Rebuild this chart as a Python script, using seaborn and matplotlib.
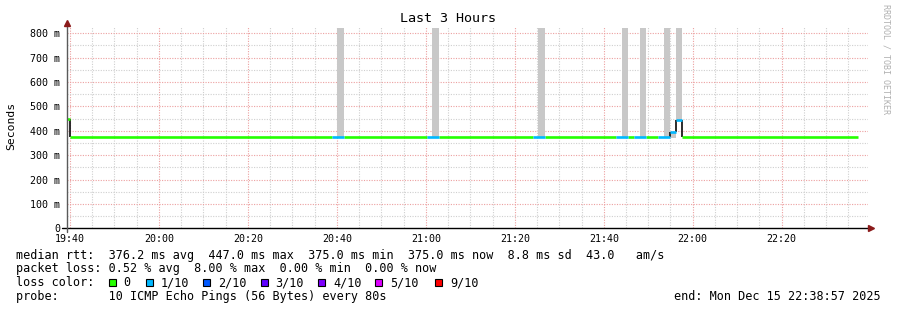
import numpy as np
import pandas as pd
import matplotlib
matplotlib.use("Agg")
import matplotlib.pyplot as plt
import seaborn as sns
from matplotlib.patches import Rectangle
from matplotlib.lines import Line2D

# ---------------- data ----------------
x_tick_minutes = [0, 20, 40, 60, 80, 100, 120, 140, 160]
x_tick_labels = ["19:40", "20:00", "20:20", "20:40", "21:00",
                 "21:20", "21:40", "22:00", "22:20"]
y_tick_values = [0, 100, 200, 300, 400, 500, 600, 700, 800]
y_tick_labels = ["0", "100 m", "200 m", "300 m", "400 m",
                 "500 m", "600 m", "700 m", "800 m"]

# median rtt (ms) as step segments, minutes after 19:40
seg_start = [-0.74, 0.0, 58.9, 61.6, 80.3, 83.0, 104.1, 106.8,
             122.8, 125.5, 126.8, 129.5, 132.2, 134.9, 136.2, 137.5]
seg_end = [0.0, 58.9, 61.6, 80.3, 83.0, 104.1, 106.8, 122.8,
           125.5, 126.8, 129.5, 132.2, 134.9, 136.2, 137.5, 177.2]
seg_value = [447, 375, 375, 375, 375, 375, 375, 375,
             375, 375, 375, 375, 375, 394, 446, 375]
seg_loss = [0, 0, 1, 0, 1, 0, 1, 0, 1, 0, 1, 0, 1, 1, 1, 0]

# smoke (spread of individual pings)
smoke_start = [60.0, 81.4, 105.2, 124.1, 128.2, 133.6, 134.9, 136.2]
smoke_end = [61.6, 83.0, 106.8, 125.5, 129.5, 134.9, 136.2, 137.5]
smoke_low = [375, 375, 375, 375, 375, 375, 370, 446]
smoke_high = [822, 822, 822, 822, 822, 822, 392, 822]

loss_labels = ["0", "1/10", "2/10", "3/10", "4/10", "5/10", "9/10"]
loss_colors = ["#26ff00", "#00b8ff", "#0059ff", "#5e00ff",
               "#7e00ff", "#dd00ff", "#ff0000"]

title = "Last 3 Hours"
y_label = "Seconds"
stat_line1 = "median rtt:  376.2 ms avg  447.0 ms max  375.0 ms min  375.0 ms now  8.8 ms sd  43.0   am/s"
stat_line2 = "packet loss: 0.52 % avg  8.00 % max  0.00 % min  0.00 % now"
stat_line3 = "loss color:"
stat_line4 = "probe:       10 ICMP Echo Pings (56 Bytes) every 80s"
end_text = "end: Mon Dec 15 22:38:57 2025"
watermark = "RRDTOOL / TOBI OETIKER"

# ---------------- style ----------------
sns.set_theme(style="white")
plt.rcParams["font.family"] = ["DejaVu Sans Mono", "DejaVu Sans"]
plt.rcParams["text.color"] = "black"
plt.rcParams["lines.scale_dashes"] = True

W, H = 897, 310
fig = plt.figure(figsize=(W / 100, H / 100), dpi=100)
fig.patch.set_facecolor("white")

def fx(px):
    return px / W

def fy(py):
    return 1 - py / H

x_left_px, x_right_px = 66.7, 868.0
y_bot_px, y_top_px = 228.3, 26.7
ax = fig.add_axes([fx(x_left_px), fy(y_bot_px),
                   (x_right_px - x_left_px) / W, (y_bot_px - y_top_px) / H])
ax.set_facecolor("white")
ax.set_xlim(-0.74, 179.4)
ax.set_ylim(0, 827)

# grid
major_c = "#eca0a0"
minor_c = "#cfcfcf"
dots = (0, (1, 1.3))
for t in range(5, 180, 5):
    if t % 20 != 0:
        ax.axvline(t, color=minor_c, lw=0.8, ls=dots, zorder=1)
for t in x_tick_minutes:
    ax.axvline(t, color=major_c, lw=0.8, ls=dots, zorder=1)
for v in range(50, 827, 100):
    ax.axhline(v, color=minor_c, lw=0.8, ls=dots, zorder=1)
for v in y_tick_values[1:]:
    ax.axhline(v, color=major_c, lw=0.8, ls=dots, zorder=1)

# smoke
ax.bar(smoke_start,
       np.array(smoke_high) - np.array(smoke_low),
       width=np.array(smoke_end) - np.array(smoke_start),
       bottom=smoke_low, align="edge", color="#c8c8c8",
       linewidth=0, zorder=2)

# black connectors at value changes
for i in range(1, len(seg_value)):
    if seg_value[i] != seg_value[i - 1]:
        ax.vlines(seg_start[i], min(seg_value[i], seg_value[i - 1]),
                  max(seg_value[i], seg_value[i - 1]),
                  color="#1a1a1a", lw=1.3, zorder=3)

# median line coloured by loss
rows = []
for i in range(len(seg_start)):
    lab = loss_labels[seg_loss[i]]
    rows.append({"t": seg_start[i], "v": seg_value[i], "loss": lab, "seg": i})
    rows.append({"t": seg_end[i], "v": seg_value[i], "loss": lab, "seg": i})
df = pd.DataFrame(rows)
sns.lineplot(data=df, x="t", y="v", hue="loss", units="seg", estimator=None,
             palette=dict(zip(loss_labels, loss_colors)), linewidth=1.9,
             legend=False, ax=ax, sort=False, zorder=4)
for ln in ax.lines:
    ln.set_solid_capstyle("butt")

# ticks
ax.set_xticks(x_tick_minutes)
ax.set_xticklabels(x_tick_labels)
ax.set_yticks(y_tick_values)
ax.set_yticklabels(y_tick_labels)
ax.tick_params(axis="both", length=0, labelsize=7.2, colors="#000000",
               labelcolor="#000000")
ax.tick_params(axis="x", pad=4.2)
ax.tick_params(axis="y", pad=4.6)
ax.set_xlabel("")
ax.set_ylabel("")
for s in ax.spines.values():
    s.set_visible(False)

# axes lines and arrows
fig.add_artist(Line2D([fx(62), fx(870)], [fy(228.3), fy(228.3)],
                      color="black", lw=1.0))
fig.add_artist(Line2D([fx(66.7), fx(66.7)], [fy(232), fy(24)],
                      color="#5a5a5a", lw=1.0))
fig.add_artist(Line2D([fx(66.8)], [fy(23)], marker="^", ms=4.5,
                      color="#8b1a1a", lw=0))
fig.add_artist(Line2D([fx(870.5)], [fy(228.3)], marker=">", ms=4.5,
                      color="#8b1a1a", lw=0))

# titles
fig.text(fx(448), fy(19), title, ha="center", va="center", fontsize=9.6,
         color="black")
fig.text(fx(11), fy(126), y_label, rotation=90, ha="center", va="center",
         fontsize=8.2, color="black")
fig.text(fx(886), fy(4), watermark, rotation=270, ha="center", va="top",
         fontsize=6.0, color="#b0b0b0")

# statistics
fs = 8.5
fig.text(fx(16), fy(255), stat_line1, va="center", fontsize=fs, color="black")
fig.text(fx(16), fy(268.7), stat_line2, va="center", fontsize=fs, color="black")
fig.text(fx(16), fy(282.7), stat_line3, va="center", fontsize=fs, color="black")
fig.text(fx(16), fy(296.7), stat_line4, va="center", fontsize=fs, color="black")
fig.text(fx(881), fy(296.7), end_text, va="center", ha="right", fontsize=fs,
         color="black")

sq_x = [109, 146, 203, 261, 318, 375, 435]
txt_x = [123, 161, 218, 275, 333, 390, 450]
for lab, col, sx, tx in zip(loss_labels, loss_colors, sq_x, txt_x):
    fig.add_artist(Rectangle((fx(sx), fy(286.2)), 7 / W, 7 / H,
                             facecolor=col, edgecolor="black", lw=0.8,
                             transform=fig.transFigure))
    fig.text(fx(tx), fy(282.7), lab, va="center", fontsize=fs, color="black")

fig.savefig("out.png", dpi=100, facecolor="white")
